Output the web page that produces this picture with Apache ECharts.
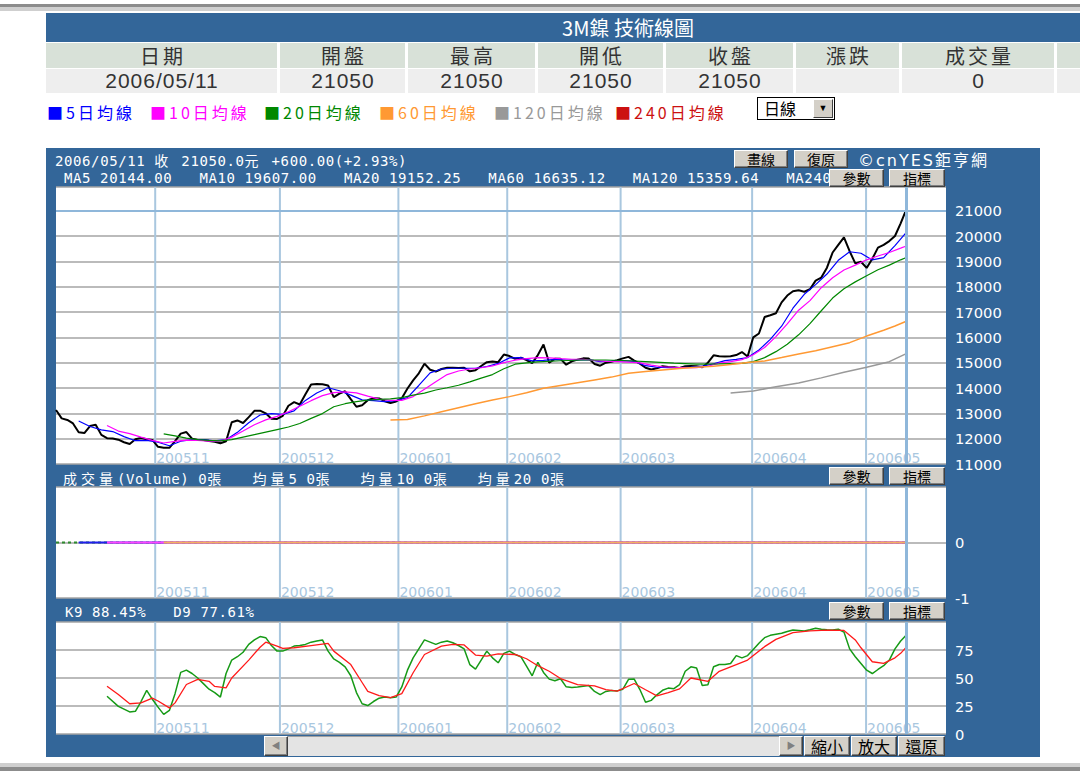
<!DOCTYPE html>
<html>
<head>
<meta charset="utf-8">
<title>3M鎳 技術線圖</title>
<script src="https://cdn.jsdelivr.net/npm/echarts/dist/echarts.min.js"></script>
<style>
html,body{margin:0;padding:0;background:#fff;}
body{width:1080px;height:771px;position:relative;overflow:hidden;font-family:'Liberation Sans','Noto Sans CJK TC',sans-serif;}
.abs{position:absolute;}
.cell{position:absolute;top:43px;height:25px;background:#d8e1d8;color:#333;font-family:'Noto Sans CJK TC',sans-serif;font-size:20px;line-height:25px;letter-spacing:3px;text-indent:3px;text-align:center;white-space:nowrap;}
.dcell{position:absolute;top:69px;height:24px;background:#eeeeee;color:#333;font-size:21px;line-height:24px;letter-spacing:1px;text-indent:1px;text-align:center;white-space:nowrap;}
.leg{position:absolute;top:101px;font-family:'Noto Sans CJK TC',sans-serif;font-size:16px;line-height:22px;letter-spacing:3px;white-space:nowrap;}
#chart{position:absolute;left:46px;top:148px;width:994px;height:609px;}
.info{position:absolute;color:#fff;font-family:'DejaVu Sans Mono','Noto Sans CJK TC',monospace;font-size:14px;letter-spacing:0.6px;white-space:pre;line-height:16px;z-index:2;}
.cjk{letter-spacing:4px;font-family:'Noto Sans CJK TC',sans-serif;}
.btn{position:absolute;box-sizing:border-box;background:#d4d0c8;border:1px solid;border-color:#ffffff #404040 #404040 #ffffff;box-shadow:inset -1px -1px 0 #808080;color:#000;font-family:'Noto Sans CJK TC',sans-serif;font-size:14px;text-align:center;z-index:3;white-space:nowrap;}
</style>
</head>
<body>
<div class="abs" style="left:0;top:4px;width:1080px;height:3px;background:#8c8c8c"></div>
<div class="abs" style="left:0;top:7px;width:1080px;height:4px;background:#cfcfcf"></div>
<div id="title" class="abs" style="left:46px;top:13px;width:1164px;height:29px;background:#336699;color:#fff;font-family:'Noto Sans CJK TC',sans-serif;font-size:20px;line-height:29px;text-align:center;"></div>
<div id="quote"></div>
<div id="legend"></div>
<div class="abs" style="left:757px;top:97px;width:78px;height:23px;box-sizing:border-box;border:1px solid #000;background:#fff;">
  <span style="position:absolute;left:6px;top:-1px;font-family:'Noto Sans CJK TC';font-size:16px;line-height:22px;">日線</span>
  <div style="position:absolute;right:1px;top:1px;width:20px;height:19px;box-sizing:border-box;background:#d4d0c8;border:1px solid;border-color:#fff #404040 #404040 #fff;font-size:9px;line-height:17px;text-align:center;">&#9660;</div>
</div>
<div id="chart"></div>
<div id="overlay"></div>
<div class="abs" style="left:0;top:763px;width:1080px;height:4px;background:#cfcfcf"></div>
<div class="abs" style="left:0;top:767px;width:1080px;height:4px;background:#8c8c8c"></div>
<script>
// ---------- data ----------
const chartTitle = '3M鎳 技術線圖';
const quoteHeaders = ['日期', '開盤', '最高', '開低', '收盤', '漲跌', '成交量', ''];
const quoteValues = ['2006/05/11', '21050', '21050', '21050', '21050', '', '0', ''];
const maLegendNames = ['5日均線', '10日均線', '20日均線', '60日均線', '120日均線', '240日均線'];
const maLegendColors = ['#0000ff', '#ff00ff', '#008800', '#ff9933', '#999999', '#cc1111'];

const infoLine1 = '2006/05/11 收 21050.0元 +600.00(+2.93%)';
const maInfo = ['MA5 20144.00', 'MA10 19607.00', 'MA20 19152.25', 'MA60 16635.12', 'MA120 15359.64', 'MA240'];
const volInfo = ['成交量(Volume) 0張', '均量5 0張', '均量10 0張', '均量20 0張'];
const kdInfo = ['K9 88.45%', 'D9 77.61%'];

const monthLabels = ['200511', '200512', '200601', '200602', '200603', '200604', '200605'];
const monthStartDay = [17.5, 39.5, 60.4, 79.6, 99.6, 122.8, 142.9];
const lastDay = 150;
const dayAxisMax = 157;
const priceTicks = [11000, 21935, 1000];
const referencePrice = 21000;

// daily close, day 0 .. 150
const closes = [
 13130,12800,12740,12600,12250,12220,12500,12550,12150,12020,
 12010,11960,11860,11790,11980,12030,11980,11950,11680,11640,
 11640,11900,12200,12260,12000,11950,11950,11910,11880,11820,
 11900,12650,12720,12620,12850,13100,13105,13000,12790,12780,
 12900,13300,13440,13350,13750,14140,14160,14150,14100,13640,
 13780,13870,13560,13260,13320,13520,13595,13590,13480,13410,
 13470,13600,13980,14300,14580,14960,14720,14650,14750,14800,
 14800,14790,14800,14660,14700,14870,15020,15050,15020,15320,
 15260,15150,15200,15100,14980,15300,15720,15000,15150,15150,
 14920,15050,15120,15170,15160,14950,14880,15000,15040,15100,
 15170,15230,15080,14960,14800,14730,14780,14860,14830,14820,
 14790,14860,14870,14860,14820,15000,15290,15250,15240,15250,
 15300,15420,15240,16000,16150,16800,16870,16950,17380,17650,
 17820,17860,17800,17900,18240,18360,18750,19350,19650,19950,
 19400,18920,18985,18740,19100,19540,19650,19800,20000,20500,
 21050
];
// moving averages as [day, value]
const ma5 = [[4,12700],[6,12480],[8,12350],[10,12280],[12,12080],[14,11920],[16,11930],[18,11860],[20,11720],[22,11900],[24,11960],[26,11960],[28,11915],[30,11960],[32,12250],[34,12630],[36,12935],[38,12990],[40,12960],[42,13100],[44,13510],[46,13800],[48,14010],[50,13890],[52,13720],[54,13530],[56,13500],[58,13460],[60,13500],[62,13620],[64,14100],[66,14600],[68,14750],[70,14780],[72,14780],[74,14780],[76,14850],[78,14970],[80,15190],[82,15200],[84,15070],[86,15090],[88,15130],[90,15105],[92,15110],[94,15120],[96,15040],[98,15060],[100,15080],[102,15050],[104,14880],[106,14820],[108,14800],[110,14810],[112,14830],[114,14860],[116,14950],[118,15080],[120,15130],[122,15200],[124,15500],[126,15920],[128,16440],[130,17150],[132,17700],[134,18080],[136,18500],[138,19040],[140,19380],[142,19320],[144,19055],[146,19150],[148,19620],[150,20144]];
const ma10 = [[9,12520],[11,12300],[13,12200],[15,12060],[17,11930],[19,11830],[21,11890],[23,11945],[25,11930],[27,11900],[29,11900],[31,12060],[33,12300],[35,12550],[37,12740],[39,12880],[41,13060],[43,13280],[45,13500],[47,13700],[49,13820],[51,13850],[53,13810],[55,13680],[57,13560],[59,13510],[61,13510],[63,13660],[65,13950],[67,14250],[69,14530],[71,14670],[73,14750],[75,14800],[77,14870],[79,15000],[81,15100],[83,15160],[85,15200],[87,15190],[89,15160],[91,15135],[93,15135],[95,15085],[97,15050],[99,15040],[101,15020],[103,14990],[105,14900],[107,14840],[109,14820],[111,14805],[113,14800],[115,14860],[117,14980],[119,15040],[121,15120],[123,15310],[125,15600],[127,16030],[129,16530],[131,17070],[133,17450],[135,17960],[137,18350],[139,18660],[141,18850],[143,19060],[145,19210],[147,19350],[149,19520],[150,19607]];
const ma20 = [[19,12190],[21,12110],[23,12020],[25,11960],[27,11930],[29,11910],[31,11960],[33,12060],[35,12160],[37,12260],[39,12360],[41,12460],[43,12600],[45,12800],[47,12990],[49,13260],[51,13380],[53,13460],[55,13525],[57,13550],[59,13570],[61,13620],[63,13720],[65,13800],[67,13920],[69,14010],[71,14110],[73,14240],[75,14390],[77,14530],[79,14760],[81,14940],[83,14990],[85,15030],[89,15075],[93,15105],[97,15105],[101,15075],[105,15030],[109,14985],[113,14945],[117,14950],[121,14975],[123,15040],[125,15200],[127,15435],[129,15730],[131,16100],[133,16540],[135,17050],[137,17550],[139,17920],[141,18190],[143,18430],[145,18670],[147,18850],[149,19060],[150,19152]];
const ma60 = [[59,12740],[62,12760],[65,12900],[68,13060],[71,13220],[74,13380],[77,13530],[80,13660],[83,13810],[86,13990],[89,14100],[92,14210],[95,14320],[98,14430],[101,14580],[104,14650],[107,14710],[110,14770],[113,14820],[116,14860],[119,14930],[122,15010],[125,15070],[128,15200],[131,15340],[134,15470],[137,15630],[140,15790],[143,16050],[146,16280],[148,16450],[150,16635]];
const ma120 = [[119,13800],[123,13880],[127,14050],[131,14200],[135,14400],[139,14620],[143,14820],[147,15040],[150,15360]];
// volume (all zero) and its averages as [day, value]
const volume = [[0,0],[150,0]];
const volMa5 = [[4,0],[150,0]];
const volMa10 = [[9,0],[150,0]];
const volMa20 = [[19,0],[150,0]];
// KD indicator as [day, value]
const kLine = [[9,33.7],[11,24.7],[13,19.7],[14,20.3],[15,29],[16,39],[17,31],[18,24],[19,17.5],[20,21],[21,36],[22,55],[23,57],[24,54],[25,50],[26,45],[27,40],[28,37],[29,33],[30,54],[31,66],[32,69],[33,73],[34,80],[35,84],[36,87],[37,86],[38,79],[39,74],[40,74],[41,76],[42,78.5],[43,79],[44,80],[45,82],[46,83],[47,84],[48,74],[49,67],[50,64],[51,60],[52,52],[53,37],[54,27],[55,25.4],[56,29],[57,32],[58,33],[59,32.3],[60,33],[61,42],[62,57],[63,68],[64,76],[65,84],[66,82],[67,80],[68,82],[69,83],[70,81.5],[71,79],[72,76],[73,62],[74,58],[75,66],[76,74],[77,68],[78,63.6],[79,72],[80,74],[81,71],[82,69],[83,60.6],[84,52],[85,64],[86,55],[87,49],[88,47.5],[89,49.3],[90,42.1],[91,41.5],[92,42],[93,42.7],[94,43.2],[95,38],[96,35.2],[97,38],[98,38.8],[99,38.5],[100,40],[101,48.8],[102,49],[103,39.7],[104,28.3],[105,30],[106,35],[107,39],[108,41],[109,40.5],[110,44],[111,56],[112,60],[113,59],[114,43.3],[115,44],[116,60],[117,62],[118,62],[119,63],[120,70],[121,68],[122,70],[123,75.5],[124,81],[125,86],[126,88.1],[127,89],[128,89.9],[129,91.5],[130,92.8],[131,92.5],[132,92],[133,93],[134,94.4],[135,93.6],[136,93],[137,92.8],[138,93.5],[139,91],[140,76],[141,69],[142,63],[143,57],[144,54],[145,57.6],[146,61],[147,66],[148,76],[149,83],[150,88.45]];
const dLine = [[9,42.7],[11,35.2],[13,27],[15,27.8],[17,32],[18,29.5],[20,23.3],[21,27.8],[23,44.2],[25,48.7],[27,47],[28,42.5],[30,41.2],[31,50],[34,66],[36,77.5],[37,82],[39,78.5],[40,76.5],[42,77],[45,79],[48,81],[49,74],[52,62],[54,46],[55,38],[57,34.3],[59,32.5],[61,36],[63,54.7],[65,71],[68,78.5],[70,80],[72,79.5],[74,70.5],[76,69.5],[78,71.5],[81,71],[83,67.2],[85,61],[87,56],[89,49.5],[92,44],[95,43],[97,39.7],[99,38.2],[102,45.1],[104,39.5],[106,34],[108,37],[110,40.3],[112,50],[115,47],[117,56],[120,62],[122,66],[125,78],[127,84.5],[130,90.5],[133,92],[136,92.8],[139,92.5],[141,84],[142,77],[144,64.5],[146,63],[148,68],[149,72],[150,77.61]];

// ---------- page texts ----------
document.getElementById('title').textContent = chartTitle;
const colEdges = [[46,277],[280,405],[408,535],[538,663],[666,793],[796,899],[902,1054],[1057,1210]];
let qh = '';
colEdges.forEach((c, i) => {
  qh += `<div class="cell" style="left:${c[0]}px;width:${c[1]-c[0]}px">${quoteHeaders[i]}</div>`;
  qh += `<div class="dcell" style="left:${c[0]}px;width:${c[1]-c[0]}px">${quoteValues[i]}</div>`;
});
document.getElementById('quote').innerHTML = qh;
const legLeft = [47, 150, 264, 379, 494, 615];
document.getElementById('legend').innerHTML = maLegendNames.map((n, i) =>
  `<span class="leg" style="left:${legLeft[i]}px;color:${maLegendColors[i]}">&#9632;${n}</span>`).join('');

function cjkWrap(s) { return s.replace(/([\u2e80-\u9fff\uff00-\uffef]+)/g, '<span class="cjk">$1</span>'); }
const gap = '   ';
let ov = '';
ov += `<div class="info" style="left:55px;top:152px">${cjkWrap(infoLine1)}</div>`;
ov += `<div class="info" style="left:64px;top:170px">${maInfo.join(gap)}</div>`;
ov += `<div class="info" style="left:63px;top:470px">${cjkWrap(volInfo.join(gap))}</div>`;
ov += `<div class="info" style="left:65px;top:604px">${kdInfo.join(gap)}</div>`;
ov += `<div class="info" style="left:858px;top:151px;font-family:'DejaVu Sans','Noto Sans CJK TC';font-size:16px;letter-spacing:2px">©cnYES<span style="font-family:'Noto Sans CJK TC'">鉅亨網</span></div>`;
const btns = [
  ['畫線',734,150,54,18],['復原',794,150,54,18],
  ['參數',829,169,55,18],['指標',889,169,56,18],
  ['參數',829,467,55,18],['指標',889,467,56,18],
  ['參數',829,602,55,18],['指標',889,602,56,18],
  ['縮小',804,736,46,20],['放大',851,736,46,20],['還原',898,736,47,20]
];
btns.forEach(b => {
  ov += `<div class="btn" style="left:${b[1]}px;top:${b[2]}px;width:${b[3]}px;height:${b[4]}px;line-height:${b[4]-2}px;${b[4]>18?'font-size:16px;':''}">${b[0]}</div>`;
});
// scrollbar
ov += `<div class="abs" style="left:288px;top:736px;width:491px;height:20px;background:#e4e4e4;border-top:1px solid #a0a0a0;box-sizing:border-box;z-index:2"></div>`;
ov += `<div class="btn" style="left:264px;top:736px;width:24px;height:20px;line-height:18px;font-size:9px;color:#808080">&#9664;</div>`;
ov += `<div class="btn" style="left:779px;top:736px;width:24px;height:20px;line-height:18px;font-size:9px;color:#808080">&#9654;</div>`;
document.getElementById('overlay').innerHTML = ov;

// ---------- chart ----------
const chart = echarts.init(document.getElementById('chart'), null, {renderer: 'svg', width: 994, height: 609});
const grids = [
  {left: 10, top: 39, width: 890, height: 277},
  {left: 10, top: 339, width: 890, height: 111},
  {left: 10, top: 474, width: 890, height: 112}
].map(g => Object.assign({show: true, backgroundColor: '#ffffff', borderWidth: 0}, g));
const xAxes = [0, 1, 2].map(i => ({type: 'value', gridIndex: i, min: 0, max: dayAxisMax, show: false}));
const yLabel = {color: '#ffffff', fontSize: 14.7, fontFamily: 'DejaVu Sans', margin: 9, align: 'left'};
const split = {show: true, lineStyle: {color: '#a4a4a4', width: 1.5}};
const yAxes = [
  {type: 'value', gridIndex: 0, position: 'right', min: priceTicks[0], max: priceTicks[1], interval: priceTicks[2],
   axisLine: {show: false}, axisTick: {show: false}, splitLine: split,
   axisLabel: Object.assign({}, yLabel, {formatter: v => (v % 1000 === 0 ? String(v) : '')})},
  {type: 'value', gridIndex: 1, position: 'right', min: -1, max: 1, interval: 1,
   axisLine: {show: false}, axisTick: {show: false}, splitLine: split,
   axisLabel: Object.assign({}, yLabel, {formatter: v => (v === 1 ? '' : String(v))})},
  {type: 'value', gridIndex: 2, position: 'right', min: 0, max: 100, interval: 25,
   axisLine: {show: false}, axisTick: {show: false}, splitLine: split,
   axisLabel: Object.assign({}, yLabel, {formatter: v => (v === 100 ? '' : String(v))})}
];
const gridMin = [priceTicks[0], -1, 0];
function monthSeries(g) {
  return {
    type: 'custom', xAxisIndex: g, yAxisIndex: g, silent: true, z: 1, animation: false,
    data: monthStartDay.map(d => [d, gridMin[g]]),
    renderItem: (params, api) => {
      const cs = params.coordSys;
      const x = api.coord([api.value(0), api.value(1)])[0];
      return {type: 'group', children: [
        {type: 'line', shape: {x1: x, y1: cs.y, x2: x, y2: cs.y + cs.height}, style: {stroke: '#a9c7df', lineWidth: 2}},
        {type: 'text', x: x + 1, y: cs.y + cs.height + 1,
         style: {text: monthLabels[params.dataIndex], fill: '#a9c7df', font: '14px "DejaVu Sans"', align: 'left', verticalAlign: 'bottom'}}
      ]};
    }
  };
}
const lastLine = {silent: true, symbol: 'none', label: {show: false}, lineStyle: {color: '#8fb7da', width: 3, type: 'solid'}, data: [{xAxis: lastDay}]};
function line(name, data, color, width, g, extra) {
  return Object.assign({type: 'line', name, data, xAxisIndex: g, yAxisIndex: g, symbol: 'none', showSymbol: false,
    lineStyle: {color, width}, itemStyle: {color}, silent: true, animation: false, z: 3}, extra || {});
}
const closeData = closes.map((v, i) => [i, v]);
chart.setOption({
  backgroundColor: '#336699',
  animation: false,
  grid: grids,
  xAxis: xAxes,
  yAxis: yAxes,
  series: [
    monthSeries(0), monthSeries(1), monthSeries(2),
    line('收盤', closeData, '#000000', 2, 0, {markLine: {
      silent: true, symbol: 'none', label: {show: false},
      data: [
        {xAxis: lastDay, lineStyle: {color: '#8fb7da', width: 3, type: 'solid'}},
        {yAxis: referencePrice, lineStyle: {color: '#8fb7da', width: 2, type: 'solid'}}
      ]}}),
    line('MA5', ma5, '#0000ff', 1.2, 0),
    line('MA10', ma10, '#ff00ff', 1.2, 0),
    line('MA20', ma20, '#008800', 1.2, 0),
    line('MA60', ma60, '#ff9933', 1.5, 0),
    line('MA120', ma120, '#999999', 1.5, 0),
    line('成交量', volume, '#2e8b2e', 2, 1, {lineStyle: {color: '#2e8b2e', width: 2, type: [3, 3]}, markLine: lastLine}),
    line('均量5', volMa5, '#2020ee', 2, 1),
    line('均量10', volMa10, '#ff44ff', 2, 1),
    line('均量20', volMa20, '#f4b060', 2, 1),
    line('K9', kLine, '#169a16', 1.5, 2, {markLine: lastLine}),
    line('D9', dLine, '#ff1a1a', 1.3, 2)
  ]
});
</script>
</body>
</html>
